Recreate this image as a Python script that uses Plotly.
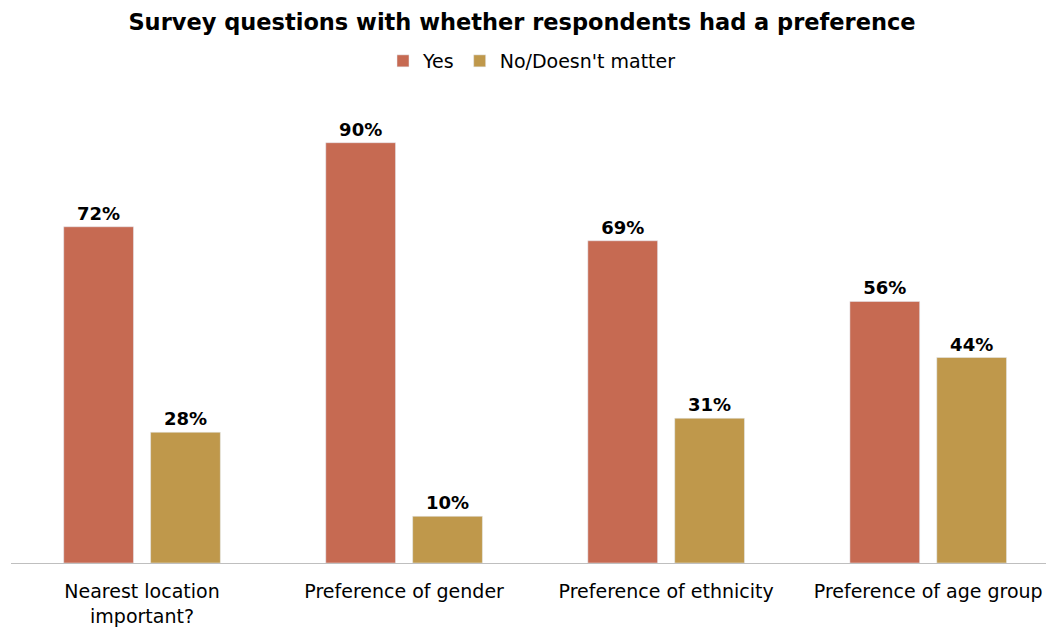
import plotly.graph_objects as go

categories = ["Nearest location<br>important?", "Preference of gender",
              "Preference of ethnicity", "Preference of age group"]
yes_vals = [72, 90, 69, 56]
no_vals = [28, 10, 31, 44]

FONT = "DejaVu Sans"
W, H = 1046, 622

fig = go.Figure()
fig.add_trace(go.Bar(
    name="Yes", x=categories, y=yes_vals,
    marker=dict(color="#C66A52"),
    text=[f"<b>{v}%</b>" for v in yes_vals], textposition="outside",
    textfont=dict(size=18, color="#000000", family=FONT), cliponaxis=False,
))
fig.add_trace(go.Bar(
    name="No/Doesn't matter", x=categories, y=no_vals,
    marker=dict(color="#BF984B"),
    text=[f"<b>{v}%</b>" for v in no_vals], textposition="outside",
    textfont=dict(size=18, color="#000000", family=FONT), cliponaxis=False,
))

fig.update_layout(
    width=W, height=H,
    margin=dict(l=3, r=0, t=88, b=67, autoexpand=False),
    paper_bgcolor="white", plot_bgcolor="white",
    font=dict(family=FONT, size=19, color="#000000"),
    title=dict(text="<b>Survey questions with whether respondents had a preference</b>",
               x=(522 - 8) / W, xref="container", xanchor="center",
               y=1 - 14 / H, yref="container", yanchor="middle", pad=dict(t=0, b=0),
               font=dict(size=22.5, color="#000000", family=FONT)),
    legend=dict(orientation="h", x=(532 - 8) / W, xref="container", xanchor="center",
                y=1 - 53 / H, yref="container", yanchor="middle",
                font=dict(size=19, color="#000000"), traceorder="normal"),
    barmode="group", bargap=0.337, bargroupgap=0.197,
    showlegend=True,
)
fig.update_xaxes(range=[-0.5, 3.48], showline=True, linecolor="#BFBFBF", linewidth=1,
                 ticks="", ticklabelstandoff=11,
                 tickfont=dict(size=19, color="#000000"), showgrid=False)
fig.update_yaxes(range=[0, 100], visible=False, showgrid=False)

fig.write_html("out.html")
